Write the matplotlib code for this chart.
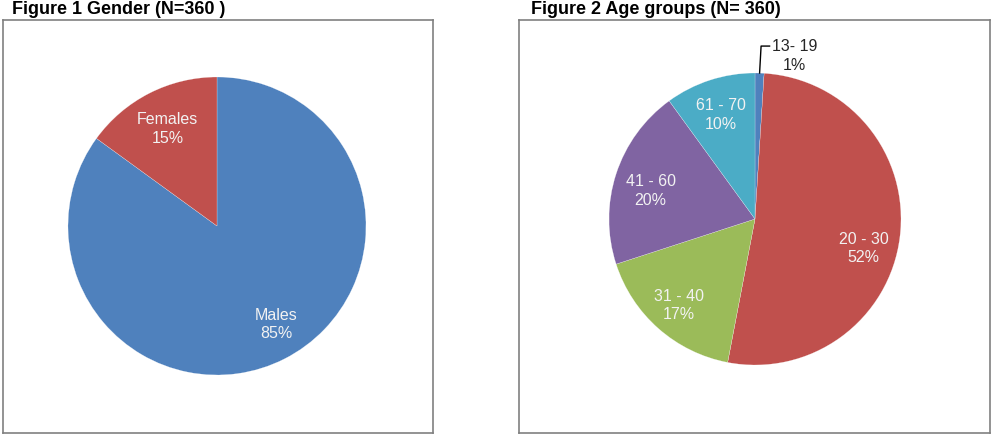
"""Two pie charts: gender and age groups of respondents (N=360)."""

import numpy as np
import matplotlib

matplotlib.use("Agg")
import matplotlib.pyplot as plt

plt.rcParams["font.family"] = ["Liberation Sans", "DejaVu Sans"]

# data
gender_labels = ["Males", "Females"]
gender_pct = [85, 15]

age_labels = ["13- 19", "20 - 30", "31 - 40", "41 - 60", "61 - 70"]
age_pct = [1, 52, 17, 20, 10]

BLUE = "#4F81BD"
RED = "#C0504D"
GREEN = "#9BBB59"
PURPLE = "#8064A2"
CYAN = "#4BACC6"

W, H = 993, 442
fig = plt.figure(figsize=(W / 100, H / 100), dpi=100)


def box_axes(x0, y0, x1, y1):
    # pixel box (image coords, y down) -> axes with 1 data unit per pixel
    ax = fig.add_axes([x0 / W, 1 - y1 / H, (x1 - x0) / W, (y1 - y0) / H])
    for s in ax.spines.values():
        s.set_color("#808080")
        s.set_linewidth(1.2)
    return ax


def fix_limits(ax, w, h):
    ax.set_xlim(0, w)
    ax.set_ylim(0, h)
    ax.set_aspect("auto")
    ax.set_xticks([])
    ax.set_yticks([])


def label_pos(wedge, center, radius, dist, dang=0.0):
    mid = np.deg2rad((wedge.theta1 + wedge.theta2) / 2 + dang)
    return center[0] + dist * radius * np.cos(mid), center[1] + dist * radius * np.sin(mid)


# Figure 1 - gender
ax1 = box_axes(3, 20, 433, 433)
c1, r1 = (214, 207), 149
w1, _ = ax1.pie(gender_pct, colors=[BLUE, RED], startangle=90, counterclock=False,
                center=c1, radius=r1, frame=True,
                wedgeprops=dict(edgecolor="white", linewidth=0.15))
fix_limits(ax1, 430, 413)
for w, lab, p, d, da in zip(w1, gender_labels, gender_pct, [0.77, 0.73], [4, 0]):
    x, y = label_pos(w, c1, r1, d, da)
    ax1.text(x, y, f"{lab}\n{p}%", ha="center", va="center", color="#f2f2f2",
             fontsize=11.5, linespacing=1.3)

fig.text(12 / W, 1 - 10 / H, "Figure 1 Gender (N=360 )", ha="left", va="center",
         fontsize=13, fontweight="bold")

# Figure 2 - age groups
ax2 = box_axes(519, 20, 990, 433)
c2, r2 = (236, 214), 146
w2, _ = ax2.pie(age_pct, colors=[BLUE, RED, GREEN, PURPLE, CYAN], startangle=90,
                counterclock=False, center=c2, radius=r2, frame=True,
                wedgeprops=dict(edgecolor="white", linewidth=0.15))
fix_limits(ax2, 471, 413)

dists = [None, 0.77, 0.79, 0.74, 0.75]
dangs = [0, -8, 0, 3, 0]
for w, lab, p, d, da in zip(w2, age_labels, age_pct, dists, dangs):
    if d is None:
        continue
    x, y = label_pos(w, c2, r2, d, da)
    ax2.text(x, y, f"{lab}\n{p}%", ha="center", va="center", color="#f2f2f2",
             fontsize=11.5, linespacing=1.3)

# small slice label outside with a leader line
w0 = w2[0]
mid = np.deg2rad((w0.theta1 + w0.theta2) / 2)
ex, ey = c2[0] + r2 * np.cos(mid), c2[1] + r2 * np.sin(mid)
ax2.plot([ex, ex + 1.5, ex + 10], [ey, ey + 27, ey + 27], color="black", lw=1.0,
         clip_on=False)
ax2.text(ex + 35, ey + 17, f"{age_labels[0]}\n{age_pct[0]}%", ha="center", va="center",
         color="#262626", fontsize=11.5, linespacing=1.3)

fig.text(531 / W, 1 - 10 / H, "Figure 2 Age groups (N= 360)", ha="left", va="center",
         fontsize=13, fontweight="bold")

fig.savefig("out.png", dpi=100)
